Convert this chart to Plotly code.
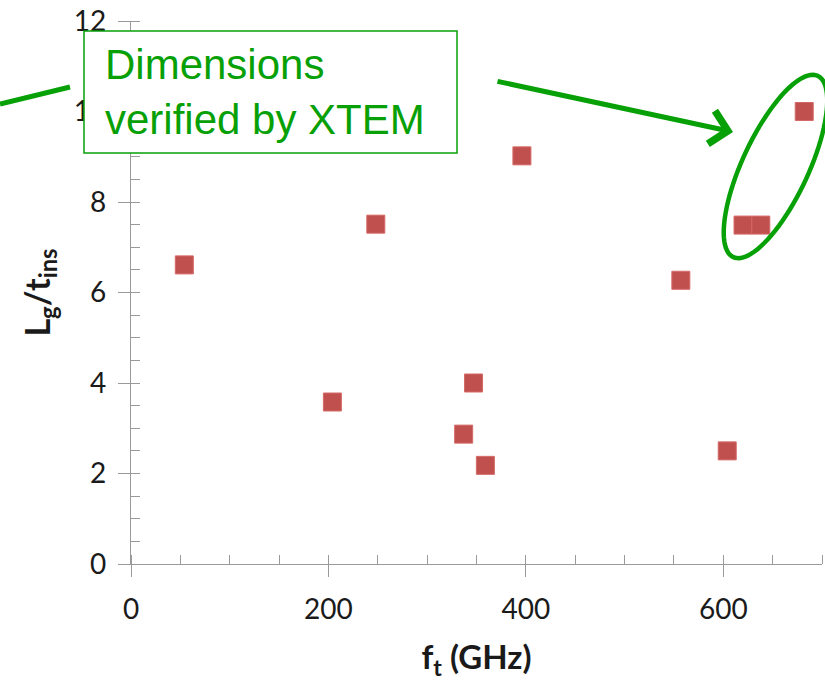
import numpy as np
import plotly.graph_objects as go

# Data
ft_ghz = [54, 204, 248, 337, 347, 359, 396, 557, 604, 620, 638, 682]
lg_tins = [6.61, 3.58, 7.51, 2.87, 4.0, 2.18, 9.02, 6.27, 2.50, 7.49, 7.49, 10.0]
x_ticks = [0, 200, 400, 600]
y_ticks = [0, 2, 4, 6, 8, 10, 12]

W, H = 825, 683
L, R, T, B = 131, 3, 21, 119
PW, PH = W - L - R, H - T - B
GREEN = "#07a007"
FONT = "Lato"


def px_to_paper(px, py):
    return (px - L) / PW, (H - B - py) / PH


fig = go.Figure()
fig.add_trace(go.Scatter(
    x=ft_ghz, y=lg_tins, mode="markers",
    marker=dict(symbol="square", size=18, color="#c0504d",
                line=dict(color="#d46a67", width=1)),
    showlegend=False, cliponaxis=False,
))

axis_common = dict(
    showgrid=False, zeroline=False, showline=True, linecolor="#9a9a9a", linewidth=1.3,
    ticks="outside", ticklen=12, tickcolor="#9a9a9a", tickwidth=1.3,
    tickfont=dict(family=FONT, size=28, color="#1a1a1a"),
)

fig.update_xaxes(
    range=[0, 700], tickvals=x_ticks, ticktext=[str(v) for v in x_ticks],
    minor=dict(dtick=50, ticks="inside", ticklen=9, tickcolor="#9a9a9a", tickwidth=1.3),
    title=dict(text="<b>f<sub>t</sub> (GHz)</b>", font=dict(family=FONT, size=33, color="#1a1a1a"),
               standoff=22),
    ticklabelstandoff=8,
    **axis_common,
)
fig.update_yaxes(
    range=[0, 12], tickvals=y_ticks, ticktext=[str(v) for v in y_ticks],
    minor=dict(dtick=0.5, ticks="inside", ticklen=9, tickcolor="#9a9a9a", tickwidth=1.3),
    title=dict(text="<b>L<sub>g</sub>/t<sub>ins</sub></b>", font=dict(family=FONT, size=34, color="#1a1a1a"),
               standoff=12),
    ticklabelstandoff=6,
    **axis_common,
)

# Text box
bx0, by0 = px_to_paper(84, 153)
bx1, by1 = px_to_paper(457, 31)
fig.add_shape(type="rect", xref="paper", yref="paper", x0=bx0, y0=by0, x1=bx1, y1=by1,
              line=dict(color=GREEN, width=1.5), fillcolor="white", layer="above")
tx, ty = px_to_paper(103, 92)
fig.add_annotation(xref="paper", yref="paper", x=tx, y=ty, xanchor="left", yanchor="middle",
                   text="Dimensions<br>verified by XTEM", showarrow=False, align="left",
                   font=dict(family="Liberation Sans", size=42, color=GREEN))

# Left line
lx0, ly0 = px_to_paper(0, 104)
lx1, ly1 = px_to_paper(70, 87)
fig.add_shape(type="line", xref="paper", yref="paper", x0=lx0, y0=ly0, x1=lx1, y1=ly1,
              line=dict(color=GREEN, width=5), layer="above")

# Arrow to ellipse
hx, hy = px_to_paper(733, 132)
fig.add_annotation(xref="paper", yref="paper", x=hx, y=hy, ax=496 - 733, ay=81 - 132,
                   showarrow=True, arrowhead=4, arrowsize=1.3, arrowwidth=5,
                   arrowcolor=GREEN, text="")

# Ellipse
cx, cy, a, b, th = 775.5, 166.5, 100, 33, np.deg2rad(65)
t = np.linspace(0, 2 * np.pi, 90)
ex = cx + a * np.cos(t) * np.cos(th) + b * np.sin(t) * np.sin(th)
ey = cy - a * np.cos(t) * np.sin(th) + b * np.sin(t) * np.cos(th)
pts = [px_to_paper(x, y) for x, y in zip(ex, ey)]
path = "M " + " L ".join(f"{p[0]:.5f},{p[1]:.5f}" for p in pts) + " Z"
fig.add_shape(type="path", xref="paper", yref="paper", path=path,
              line=dict(color=GREEN, width=4.5), layer="above")

fig.update_layout(
    width=W, height=H, margin=dict(l=L, r=R, t=T, b=B),
    plot_bgcolor="white", paper_bgcolor="white",
)

fig.write_html("out.html")
